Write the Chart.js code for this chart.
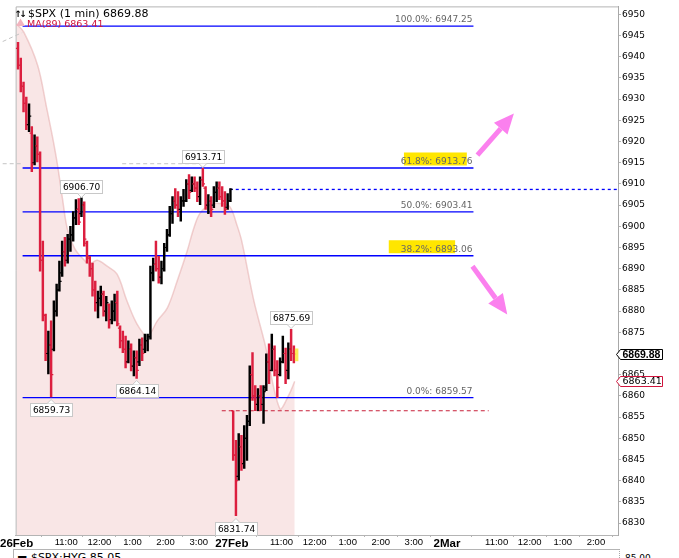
<!DOCTYPE html>
<html>
<head>
<meta charset="utf-8">
<title>$SPX (1 min)</title>
<script src="https://cdn.jsdelivr.net/npm/chart.js@4.4.1/dist/chart.umd.min.js"></script>
<style>
  html, body { margin: 0; padding: 0; background: #fff; overflow: hidden; }
  #chart { display: block; }
  #lower { position: absolute; left: 13px; top: 549px; width: 605px; height: 14px;
           border-top: 1px solid #b4b4b4; border-left: 1px solid #b4b4b4; border-right: 1px dotted #a8a8a8; }
  #lower .name { position: absolute; left: 3px; top: 1px; font: 11px "DejaVu Sans"; color: #000; white-space: nowrap; }
  #lower .px { position: absolute; left: 611px; top: 3px; font: 9px "DejaVu Sans"; color: #000; }
</style>
</head>
<body>
<canvas id="chart" width="679" height="549"></canvas>
<div id="lower"><span class="name">&#9644; $SPX:HYG 85.05</span><span class="px">85.00</span></div>

<script>
// minutes are session minutes counted from 26Feb 9:30 (390 per session)

// 5 minute bars: 26Feb (78 bars) then 27Feb (23 bars)
const highs = [
  6943.4, 6939.7, 6934.0, 6930.5, 6928.9, 6923.5, 6921.6, 6921.1, 6917.6, 6896.5,
  6879.3, 6875.3, 6877.7, 6882.4, 6886.4, 6891.8, 6896.5, 6897.4, 6898.1, 6900.0,
  6903.5, 6906.3, 6906.55, 6906.70, 6905.8, 6896.5, 6892.9, 6891.3, 6887.1, 6884.7,
  6885.9, 6884.7, 6883.5, 6881.7, 6882.4, 6884.0, 6884.7, 6876.5, 6875.3, 6874.1,
  6873.0, 6872.3, 6870.6, 6870.6, 6873.4, 6873.7, 6874.6, 6874.6, 6890.6, 6892.5,
  6896.5, 6892.9, 6891.8, 6896.0, 6899.3, 6904.7, 6907.0, 6908.9, 6908.2, 6907.0,
  6908.7, 6911.0, 6912.2, 6911.7, 6911.7, 6910.5, 6911.7, 6913.71, 6909.4, 6907.5,
  6907.0, 6909.4, 6910.5, 6910.5, 6909.4, 6908.2, 6907.7, 6908.9,
  6856.5, 6849.5, 6851.1, 6850.7, 6853.0, 6855.4, 6867.1, 6870.2, 6862.4, 6861.7,
  6862.4, 6862.4, 6869.9, 6872.3, 6874.6, 6871.8, 6868.3, 6869.0, 6874.1, 6871.3,
  6872.5, 6875.69, 6871.8
];
const lows = [
  6937.1, 6931.7, 6927.0, 6922.8, 6922.3, 6912.9, 6914.5, 6915.2, 6889.4, 6877.7,
  6868.3, 6865.2, 6859.73, 6870.6, 6878.8, 6884.7, 6888.2, 6890.6, 6891.3, 6894.1,
  6896.5, 6900.4, 6900.4, 6902.3, 6895.3, 6891.3, 6888.2, 6883.5, 6880.0, 6878.4,
  6881.2, 6878.8, 6877.7, 6876.0, 6877.0, 6877.7, 6876.5, 6871.3, 6870.2, 6866.6,
  6867.8, 6865.9, 6864.7, 6864.14, 6867.1, 6868.3, 6870.2, 6870.6, 6873.4, 6887.1,
  6889.4, 6886.6, 6886.4, 6889.4, 6894.1, 6897.6, 6900.7, 6904.2, 6902.3, 6901.2,
  6904.7, 6905.8, 6906.55, 6908.2, 6908.2, 6905.8, 6905.1, 6909.4, 6904.0, 6903.0,
  6902.3, 6904.4, 6905.8, 6906.3, 6904.7, 6902.8, 6904.0, 6905.8,
  6844.8, 6831.74, 6840.1, 6842.4, 6842.9, 6844.8, 6853.0, 6858.9, 6856.5, 6856.5,
  6856.5, 6853.5, 6861.2, 6862.9, 6865.9, 6864.7, 6859.6, 6864.7, 6867.8, 6862.9,
  6864.0, 6868.3, 6867.8
];
const opens = [
  6942, 6938, 6933, 6929, 6924, 6922, 6915, 6919, 6917, 6892,
  6879, 6870, 6872, 6871, 6880, 6885, 6889, 6894, 6892, 6897,
  6898, 6902, 6904, 6903, 6905, 6896, 6892.5, 6890, 6885, 6882,
  6883, 6884, 6880, 6881.5, 6878, 6880, 6882, 6876, 6873, 6871,
  6868, 6871, 6867, 6869, 6868, 6872, 6871, 6873, 6874, 6889,
  6891, 6890, 6888, 6890, 6895, 6898, 6903, 6906, 6905, 6904,
  6906, 6906, 6910, 6908.5, 6910, 6909, 6907, 6911, 6909, 6905,
  6906, 6905, 6908, 6909, 6907, 6906, 6904.5, 6906,
  6856.5, 6846, 6841, 6848, 6844, 6850, 6854, 6865, 6860, 6858,
  6860, 6858, 6862, 6868, 6866, 6871, 6866, 6865, 6868, 6870,
  6866, 6871, 6870
];
const closes = [
  6938, 6933, 6929, 6924, 6926, 6915, 6919, 6917, 6892, 6879,
  6870, 6872, 6865, 6880, 6885, 6887, 6894, 6892, 6897, 6898,
  6902, 6904, 6901, 6905, 6897, 6893, 6890, 6885, 6882, 6883,
  6884, 6880, 6882, 6878, 6880, 6882, 6877, 6873, 6871, 6868,
  6871, 6867, 6869, 6866, 6872, 6870, 6873, 6874, 6889, 6891,
  6890, 6888, 6890, 6895, 6898, 6903, 6906, 6905, 6904, 6906,
  6906, 6910, 6908, 6910, 6909, 6907, 6911, 6910, 6905, 6906,
  6904, 6908, 6909, 6907, 6906, 6904, 6906, 6908.7,
  6846, 6840, 6848, 6844, 6850, 6854, 6865, 6860, 6858, 6860,
  6858, 6861, 6868, 6866, 6871, 6866, 6862, 6868, 6870, 6866,
  6871, 6870, 6869.88
];
const day1Bars = 78;

// MA(89) read along the shaded edge
const maTimes = [0, 13, 38, 54, 65, 74, 83, 92, 105, 119, 132, 146, 164, 182, 200, 218, 237,
                 255, 273, 291, 309, 321, 332, 350, 368, 386, 399, 408, 430, 450, 477, 493, 504];
const maValues = [6947.7, 6945.8, 6938.0, 6928.2, 6921.1, 6914.5, 6906.6, 6899.3, 6894.8, 6892.5,
                  6891.1, 6892.0, 6890.6, 6888.7, 6882.4, 6877.0, 6874.1, 6877.7, 6880.7, 6887.1,
                  6894.1, 6899.5, 6903.0, 6905.1, 6905.4, 6904.7, 6900.4, 6896.5, 6882.4, 6872.3,
                  6857.0, 6860.1, 6863.41];

// fibonacci retracement
const fibLevels = [6947.25, 6913.76, 6903.41, 6893.06, 6859.57];
const fibNames = ['100.0%', '61.8%', '50.0%', '38.2%', '0.0%'];
const fibFrom = 10.8, fibTo = 828;
const highlightLevel = [1, 3];
const highlightFrom = [702, 674.5];
const highlightTo = [816, 794.8];

// extra drawn lines
const blueDashLevel = 6908.7, blueDashFrom = 386.3, blueDashTo = 1090;
const redDashLevel = 6856.5, redDashFrom = 371.8, redDashTo = 855.6;
const grayDashLevel = 6914.77;
const grayDashSegs = [[-25.3, 10.8], [191.3, 335.7]];
const grayDiagTimes = [-25.3, 10.1], grayDiagValues = [6943.59, 6945.70];

// value callouts
const calloutTimes = [117.5, 337.5, 62.5, 217.5, 497.5, 397.5];
const calloutValues = [6906.70, 6913.71, 6859.73, 6864.14, 6875.69, 6831.74];
const calloutAbove = [true, true, false, false, true, false];

// pink arrows  [time, value] -> [time, value]
const arrowFrom = [[835.2, 6916.8], [826.2, 6890.6]];
const arrowTo = [[901.3, 6926.6], [889.3, 6879.2]];

// axes
const xTickTimes = [0, 90, 150, 210, 270, 330, 390, 480, 540, 600, 660, 720, 780, 870, 930, 990, 1050];
const xTickLabels = ['26Feb', '11:00', '12:00', '1:00', '2:00', '3:00', '27Feb', '11:00', '12:00', '1:00',
                     '2:00', '3:00', '2Mar', '11:00', '12:00', '1:00', '2:00'];
const dayLabels = ['26Feb', '27Feb', '2Mar'];
const yTicks = [6830, 6835, 6840, 6845, 6850, 6855, 6860, 6865, 6870, 6875, 6880, 6885, 6890,
                6895, 6900, 6905, 6910, 6915, 6920, 6925, 6930, 6935, 6940, 6945, 6950];
const lastPrice = 6869.88, lastMA = 6863.41;

const UP = '#000000', DOWN = '#dc1f3f';
const BLUE = '#0000ff';
const barTimes = highs.map((h, i) => i < day1Bars ? 2.5 + 5 * i : 392.5 + 5 * (i - day1Bars));
const barColors = closes.map((c, i) => c >= opens[i] ? UP : DOWN);

function hline(level, from, to, color, dash, extra) {
  return Object.assign({
    type: 'line',
    data: [{ x: from, y: level }, { x: to, y: level }],
    borderColor: color, borderWidth: 1.3, borderDash: dash || [],
    pointRadius: 0, order: 10
  }, extra || {});
}

const datasets = [];
datasets.push({
  type: 'line',
  data: maTimes.map((t, i) => ({ x: t, y: maValues[i] })),
  fill: 'start',
  backgroundColor: 'rgba(236,176,176,0.32)',
  borderColor: 'rgba(228,165,165,0.5)',
  borderWidth: 1.5,
  tension: 0.35,
  pointRadius: 0,
  order: 20
});
fibLevels.forEach(l => datasets.push(hline(l, fibFrom, fibTo, BLUE)));
datasets.push(hline(blueDashLevel, blueDashFrom, blueDashTo, BLUE, [3, 3]));
datasets.push(hline(redDashLevel, redDashFrom, redDashTo, '#c8203a', [4, 3], { borderWidth: 1.1 }));
grayDashSegs.forEach(s => datasets.push(hline(grayDashLevel, s[0], s[1], '#c4c4c4', [4, 3], { clip: false, borderWidth: 1 })));
datasets.push({
  type: 'line',
  data: grayDiagTimes.map((t, i) => ({ x: t, y: grayDiagValues[i] })),
  borderColor: '#c4c4c4', borderWidth: 1, borderDash: [4, 3], pointRadius: 0, clip: false, order: 10
});
datasets.push({
  type: 'bar',
  data: barTimes.map((t, i) => ({ x: t, y: [lows[i], highs[i]] })),
  backgroundColor: barColors,
  barThickness: 1.8,
  grouped: false,
  order: 2
});
datasets.push({
  type: 'line', showLine: false,
  data: barTimes.map((t, i) => ({ x: t, y: opens[i] })),
  pointStyle: 'dash', pointRadius: 2.2, pointRotation: 180,
  pointBorderColor: barColors, pointBorderWidth: 1.2, order: 1
});
datasets.push({
  type: 'line', showLine: false,
  data: barTimes.map((t, i) => ({ x: t, y: closes[i] })),
  pointStyle: 'dash', pointRadius: 2.2,
  pointBorderColor: barColors, pointBorderWidth: 1.2, order: 1
});

function drawArrow(ctx, x1, y1, x2, y2) {
  const ang = Math.atan2(y2 - y1, x2 - x1);
  const head = 20, half = 9;
  const bx = x2 - Math.cos(ang) * head, by = y2 - Math.sin(ang) * head;
  ctx.strokeStyle = '#fb80ee';
  ctx.fillStyle = '#fb80ee';
  ctx.lineWidth = 5;
  ctx.beginPath(); ctx.moveTo(x1, y1); ctx.lineTo(bx, by); ctx.stroke();
  ctx.beginPath();
  ctx.moveTo(x2, y2);
  ctx.lineTo(bx + Math.sin(ang) * half, by - Math.cos(ang) * half);
  ctx.lineTo(bx - Math.sin(ang) * half, by + Math.cos(ang) * half);
  ctx.closePath(); ctx.fill();
}

function drawCallout(ctx, x, y, text, above) {
  ctx.font = '9px "DejaVu Sans"';
  const w = Math.round(ctx.measureText(text).width) + 5, h = 13;
  const bx = Math.round(x - w / 2) + 0.5;
  const by = Math.round(above ? y - 5 - h : y + 6) + 0.5;
  ctx.fillStyle = '#fff';
  ctx.strokeStyle = '#c8c8c8';
  ctx.lineWidth = 1;
  ctx.fillRect(bx, by, w, h);
  ctx.strokeRect(bx, by, w, h);
  ctx.beginPath();
  if (above) { ctx.moveTo(x - 4, by + h); ctx.lineTo(x, by + h + 4); ctx.lineTo(x + 4, by + h); }
  else { ctx.moveTo(x - 4, by); ctx.lineTo(x, by - 4); ctx.lineTo(x + 4, by); }
  ctx.fill(); ctx.stroke();
  ctx.fillStyle = '#000';
  ctx.textAlign = 'center';
  ctx.textBaseline = 'middle';
  ctx.fillText(text, bx + w / 2, by + h / 2 + 0.5);
}

function drawTag(ctx, xLeft, y, text, border, font) {
  const w = 42, h = 10;
  ctx.beginPath();
  ctx.moveTo(xLeft - 3.5, y);
  ctx.lineTo(xLeft + 0.5, y - h / 2);
  ctx.lineTo(xLeft + 0.5 + w, y - h / 2);
  ctx.lineTo(xLeft + 0.5 + w, y + h / 2);
  ctx.lineTo(xLeft + 0.5, y + h / 2);
  ctx.closePath();
  ctx.fillStyle = '#fff'; ctx.fill();
  ctx.strokeStyle = border; ctx.lineWidth = 1; ctx.stroke();
  ctx.font = font; ctx.fillStyle = '#000';
  ctx.textAlign = 'left'; ctx.textBaseline = 'middle';
  ctx.fillText(text, xLeft + 2.5, y + 0.5);
}

const overlay = {
  id: 'overlay',
  beforeDatasetsDraw(chart) {
    const { ctx, chartArea: a } = chart;
    ctx.save();
    ctx.strokeStyle = '#b4b4b4'; ctx.lineWidth = 1;
    ctx.beginPath();
    ctx.moveTo(a.left + 0.5, a.bottom); ctx.lineTo(a.left + 0.5, a.top + 0.5); ctx.lineTo(a.right, a.top + 0.5);
    ctx.stroke();
    ctx.restore();
  },
  afterDatasetsDraw(chart) {
    const { ctx } = chart;
    const xs = chart.scales.x, ys = chart.scales.y;
    ctx.save();
    // highlighter boxes
    ctx.fillStyle = '#ffe600';
    highlightLevel.forEach((li, k) => {
      const y = ys.getPixelForValue(fibLevels[li]);
      const x1 = xs.getPixelForValue(highlightFrom[k]), x2 = xs.getPixelForValue(highlightTo[k]);
      ctx.fillRect(x1, y - 15.5, x2 - x1, 13);
    });
    // fib labels
    ctx.font = '9px "DejaVu Sans"';
    ctx.fillStyle = '#666666';
    ctx.textAlign = 'right';
    ctx.textBaseline = 'alphabetic';
    fibLevels.forEach((l, i) => {
      const y = ys.getPixelForValue(l);
      ctx.fillText(fibNames[i] + ': ' + l.toFixed(2), xs.getPixelForValue(fibTo) - 1, y - 4);
    });
    // last bar marker
    const lt = barTimes[barTimes.length - 1];
    ctx.fillStyle = 'rgba(250,232,60,0.85)';
    ctx.fillRect(xs.getPixelForValue(lt) + 1, ys.getPixelForValue(lastPrice + 1.3), 3.5,
                 ys.getPixelForValue(lastPrice - 1.7) - ys.getPixelForValue(lastPrice + 1.3));
    // arrows
    arrowFrom.forEach((p, i) => {
      drawArrow(ctx, xs.getPixelForValue(p[0]), ys.getPixelForValue(p[1]),
                xs.getPixelForValue(arrowTo[i][0]), ys.getPixelForValue(arrowTo[i][1]));
    });
    // callouts
    calloutTimes.forEach((t, i) => {
      drawCallout(ctx, xs.getPixelForValue(t), ys.getPixelForValue(calloutValues[i]),
                  calloutValues[i].toFixed(2), calloutAbove[i]);
    });
    ctx.restore();
  },
  afterDraw(chart) {
    const { ctx, chartArea: a } = chart;
    const ys = chart.scales.y;
    ctx.save();
    drawTag(ctx, a.right + 2, Math.round(ys.getPixelForValue(lastPrice)) + 0.5, lastPrice.toFixed(2),
            '#000', 'bold 10.5px "Liberation Sans"');
    drawTag(ctx, a.right + 2, Math.round(ys.getPixelForValue(lastMA)) + 0.5, lastMA.toFixed(2),
            '#d0143c', '9.5px "DejaVu Sans"');
    // legend
    ctx.textAlign = 'left'; ctx.textBaseline = 'alphabetic';
    ctx.fillStyle = '#000';
    ctx.font = 'bold 9px "DejaVu Sans"';
    ctx.fillText('\u2191', 14.5, 16.5);
    ctx.fillText('\u2193', 19.5, 16.5);
    ctx.font = '11px "DejaVu Sans"';
    ctx.fillText('$SPX (1 min) ' + lastPrice.toFixed(2), 28, 16.5);
    ctx.fillStyle = '#f2b4bf';
    ctx.beginPath(); ctx.moveTo(16, 26); ctx.lineTo(20.5, 18.5); ctx.lineTo(25, 26); ctx.closePath(); ctx.fill();
    ctx.fillStyle = '#d0143c';
    ctx.font = '9.5px "DejaVu Sans"';
    ctx.fillText('MA(89) ' + lastMA.toFixed(2), 27, 26.5);
    ctx.restore();
  }
};

Chart.defaults.font.family = '"DejaVu Sans"';

new Chart(document.getElementById('chart'), {
  type: 'bar',
  data: { datasets },
  options: {
    responsive: false,
    animation: false,
    devicePixelRatio: 1,
    layout: { padding: { left: 13, top: 4, right: 0, bottom: 0 }, autoPadding: false },
    plugins: { legend: { display: false }, tooltip: { enabled: false } },
    scales: {
      x: {
        type: 'linear', min: -1.8, max: 1090, offset: false,
        afterBuildTicks: s => { s.ticks = xTickTimes.map(v => ({ value: v })); },
        afterFit: s => { s.height = 14; },
        grid: { drawOnChartArea: false, tickLength: 2, color: '#b4b4b4' },
        border: { color: '#b4b4b4' },
        ticks: {
          autoSkip: false, maxRotation: 0, padding: 0, color: '#000',
          callback: (v, i) => xTickLabels[i],
          font: c => dayLabels.includes(xTickLabels[c.index])
            ? { family: '"Liberation Sans"', size: 11.5, weight: 'bold' }
            : { family: '"Liberation Sans"', size: 9.5 }
        }
      },
      y: {
        position: 'right', min: 6827.18, max: 6951.88,
        afterBuildTicks: s => { s.ticks = yTicks.map(v => ({ value: v })); },
        afterFit: s => { s.width = 61; },
        grid: { drawOnChartArea: false, tickLength: 3, color: '#b4b4b4' },
        border: { color: '#a8a8a8', dash: [1, 1] },
        ticks: { padding: 1, color: '#000', font: { size: 9 }, callback: v => String(v) }
      }
    }
  },
  plugins: [overlay]
});
</script>
</body>
</html>
